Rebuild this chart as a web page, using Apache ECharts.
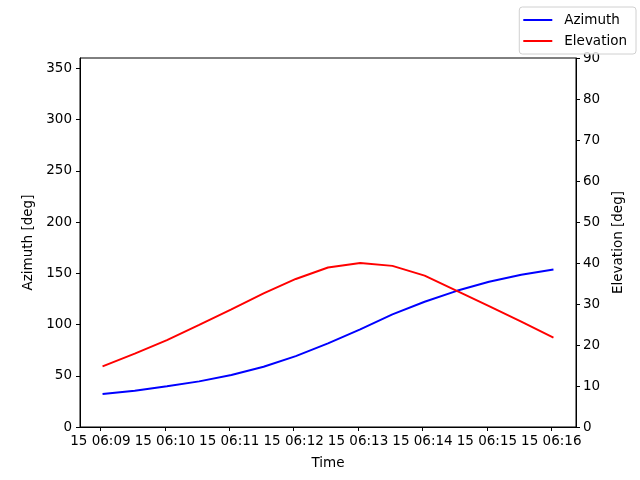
<!DOCTYPE html>
<html><head><meta charset="utf-8">
<script src="https://cdn.jsdelivr.net/npm/echarts@6/dist/echarts.min.js"></script>
<style>html,body{margin:0;padding:0;background:#fff}#c{width:640px;height:480px}</style>
</head><body><div id="c"></div>
<script>
// time of each sample (day 15, hh:mm:ss)
const times = ["06:09:02","06:09:32","06:10:02","06:10:32","06:11:02","06:11:32","06:12:02","06:12:32","06:13:02","06:13:32","06:14:02","06:14:32","06:15:02","06:15:32","06:16:02"];
const azimuth = [32.2, 35.4, 39.7, 44.5, 50.7, 58.8, 69.2, 81.5, 95.2, 109.9, 122.2, 132.9, 141.7, 148.5, 153.7];
const elevation = [14.8, 17.9, 21.2, 24.9, 28.7, 32.6, 36.1, 38.9, 40.0, 39.3, 36.9, 33.2, 29.5, 25.7, 21.8];
const xTicks = [9, 10, 11, 12, 13, 14, 15, 16]; // minutes past 06:00
const azTicks = [0, 50, 100, 150, 200, 250, 300, 350];
const elTicks = [0, 10, 20, 30, 40, 50, 60, 70, 80, 90];

function toMin(t){const p=t.split(':').map(Number);return (p[0]-6)*60+p[1]+p[2]/60;}
const xs = times.map(toMin);
const azData = xs.map((x,i)=>[x, azimuth[i]]);
const elData = xs.map((x,i)=>[x, elevation[i]]);
const span = xs[xs.length-1]-xs[0];
const xMin = xs[0]-0.05*span, xMax = xs[xs.length-1]+0.05*span;
const font = 'DejaVu Sans';
const txt = {color:'#000', fontFamily:font, fontSize:13.5};
const chart = echarts.init(document.getElementById('c'), null, {renderer:'canvas'});
chart.setOption({
  animation:false,
  textStyle:{fontFamily:font},
  grid:{left:80,right:64,top:58,bottom:53,show:true,borderColor:'#000',borderWidth:1,backgroundColor:'transparent'},
  legend:{
    right:4, top:7, orient:'vertical', icon:'rect', itemWidth:29, itemHeight:2, itemGap:7,
    padding:[6,9,6,4], borderColor:'#d0d0d0', borderWidth:1, borderRadius:3,
    backgroundColor:'rgba(255,255,255,0.8)',
    textStyle:{...txt, padding:[0,0,0,7]}, data:['Azimuth','Elevation']
  },
  xAxis:{
    type:'value', min:xMin, max:xMax,
    name:'Time', nameLocation:'middle', nameGap:29, nameTextStyle:{...txt},
    axisLine:{lineStyle:{color:'#000'}},
    axisTick:{show:true, inside:false, length:4, lineStyle:{color:'#000'}, customValues:xTicks},
    axisLabel:{...txt, margin:7, customValues:xTicks, formatter:v=>'15 06:'+String(Math.round(v)).padStart(2,'0')},
    splitLine:{show:false}
  },
  yAxis:[{
    type:'value', min:0, max:360, position:'left',
    name:'Azimuth [deg]', nameLocation:'middle', nameGap:43, nameRotate:90, nameTextStyle:{...txt},
    axisLine:{show:true, lineStyle:{color:'#000'}},
    axisTick:{show:true, inside:false, length:4, lineStyle:{color:'#000'}, customValues:azTicks},
    axisLabel:{...txt, margin:8, customValues:azTicks},
    splitLine:{show:false}
  },{
    type:'value', min:0, max:90, position:'right',
    name:'Elevation [deg]', nameLocation:'middle', nameGap:31, nameRotate:90, nameTextStyle:{...txt},
    axisLine:{show:true, lineStyle:{color:'#000'}},
    axisTick:{show:true, inside:false, length:4, lineStyle:{color:'#000'}, customValues:elTicks},
    axisLabel:{...txt, margin:7, customValues:elTicks},
    splitLine:{show:false}
  }],
  series:[
    {name:'Azimuth', type:'line', yAxisIndex:0, data:azData, symbol:'none', lineStyle:{color:'#0000ff', width:1.9}, itemStyle:{color:'#0000ff'}},
    {name:'Elevation', type:'line', yAxisIndex:1, data:elData, symbol:'none', lineStyle:{color:'#ff0000', width:1.9}, itemStyle:{color:'#ff0000'}}
  ]
});
</script></body></html>
